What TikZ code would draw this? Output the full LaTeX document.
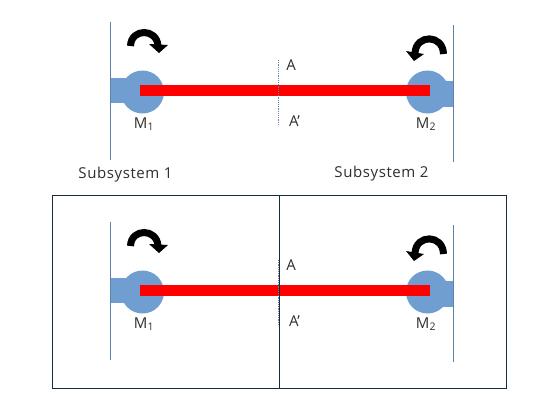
\documentclass[tikz,border=0pt]{standalone}
\usepackage{fontspec}
\setmainfont{Open Sans}
\usepackage{xcolor}
\definecolor{wallblue}{RGB}{95,130,170}
\definecolor{hubblue}{RGB}{113,158,209}
\definecolor{shaftred}{RGB}{255,0,0}
\definecolor{framedark}{RGB}{20,45,60}
\definecolor{textdark}{RGB}{50,45,40}

\begin{document}
\begin{tikzpicture}[
    x=1pt, y=-1pt,
    wall/.style={wallblue, line width=1pt},
    hub/.style={circle, fill=hubblue, minimum size=43pt, inner sep=0pt},
    shaft/.style={shaftred, line width=11pt},
    cut/.style={wallblue, line width=1.2pt, densely dotted},
    spin/.style={black, line width=7pt},
    lbl/.style={font=\fontsize{15}{17}\selectfont, text=textdark, inner sep=0pt},
    frameline/.style={framedark, line width=0.9pt}
]
    \useasboundingbox (0,0) rectangle (556,416);
    \fill[white] (0,0) rectangle (556,416);

    % Outer frame, lower system
    \node[draw=framedark, line width=0.9pt, minimum width=453.5pt, minimum height=193pt, inner sep=0pt] (frame) at (279.25,292) {};
    \coordinate (divtop) at (279.5,195.5);
    \coordinate (divbot) at (279.5,388.5);

    % Both shaft systems
    \foreach \yy/\nm in {0/a,200/b}{
        % Walls
        \draw[wall] (110.5,22+\yy) -- (110.5,160+\yy);
        \draw[wall] (453,25+\yy) -- (453,162+\yy);
        % Hubs
        \fill[hubblue] (110.5,78+\yy) rectangle (128,103+\yy);
        \fill[hubblue] (440,81+\yy) rectangle (453,107+\yy);
        \node[hub] (hubl\nm) at (142.5,92+\yy) {};
        \node[hub] (hubr\nm) at (427.5,92+\yy) {};
        % Shaft
        \coordinate (shl\nm) at (140,90.5+\yy);
        \coordinate (shr\nm) at (430,90.5+\yy);
        \draw[shaft] (shl\nm) -- (shr\nm);
        % Cut line
        \coordinate (cuta\nm) at (278.5,60+\yy);
        \coordinate (cutb\nm) at (278.5,124+\yy);
        \draw[cut] (cuta\nm) -- (cutb\nm);
        % Moments
        \draw[spin] (130.5,46+\yy) .. controls (131,28+\yy) and (157,28+\yy) .. (158,46+\yy);
        \fill[black] (149,44+\yy) -- (168,45+\yy) -- (159,53+\yy) -- cycle;
        \draw[spin] (443.5,54+\yy) .. controls (443,34+\yy) and (416,34+\yy) .. (415,53+\yy);
        \fill[black] (406,51+\yy) -- (424,54+\yy) -- (414,61+\yy) -- cycle;
        % Labels
        \node[lbl] (la\nm) at (291,65+\yy) {A};
        \node[lbl] (lb\nm) at (294.5,121+\yy) {A'};
        \node[lbl] (mo\nm) at (144,124+\yy) {M\textsubscript{1}};
        \node[lbl] (mt\nm) at (426,124+\yy) {M\textsubscript{2}};
    }

    % Divider
    \draw[frameline] (divtop) -- (divbot);

    % Subsystem titles
    \node[lbl] (subo) at (125.5,175) {\addfontfeature{LetterSpace=4}Subsystem 1};
    \node[lbl] (subt) at (381.5,174) {\addfontfeature{LetterSpace=4}Subsystem 2};
\end{tikzpicture}
\end{document}
